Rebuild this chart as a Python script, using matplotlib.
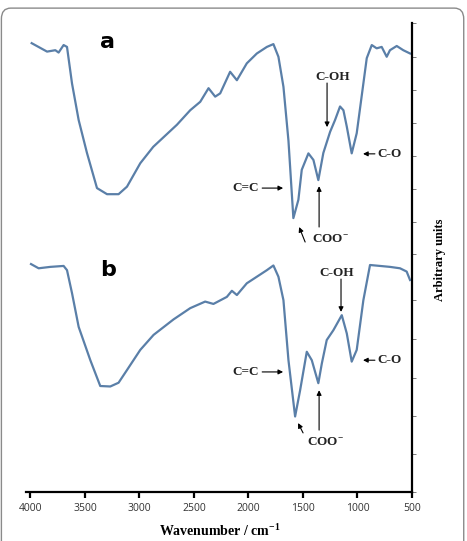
import matplotlib
matplotlib.use("Agg")
import matplotlib.pyplot as plt
from matplotlib.patches import FancyBboxPatch

plt.rcParams['mathtext.fontset'] = 'custom'
plt.rcParams['mathtext.rm'] = 'Liberation Serif:bold'
plt.rcParams['mathtext.bf'] = 'Liberation Serif:bold'

# ---- data ----
wn_a = [3988, 3847, 3771, 3741, 3695, 3664, 3618, 3557, 3481, 3389, 3297, 3191, 3114,
        2992, 2873, 2656, 2534, 2442, 2366, 2305, 2259, 2168, 2106, 2015, 1923, 1831,
        1771, 1725, 1679, 1633, 1588, 1542, 1511, 1450, 1404, 1359, 1313, 1251, 1206,
        1160, 1129, 1098, 1053, 1007, 946, 915, 869, 824, 778, 732, 702, 640, 580, 518]
int_a = [95.7, 93.9, 94.2, 93.7, 95.3, 94.9, 87.1, 79.3, 72.3, 64.8, 63.5, 63.5, 65.1,
         70.1, 73.6, 78.3, 81.4, 83.2, 86.1, 84.3, 85.0, 89.6, 87.8, 91.4, 93.5, 94.9,
         95.5, 92.8, 86.4, 74.9, 58.4, 62.3, 68.7, 72.2, 70.8, 66.5, 72.3, 76.8, 79.3,
         82.2, 81.4, 77.9, 72.2, 76.5, 87.1, 92.5, 95.3, 94.6, 94.9, 92.8, 94.2, 95.1, 94.2, 93.5]

wn_b = [3994, 3924, 3817, 3695, 3664, 3618, 3557, 3450, 3359, 3267, 3191, 3114, 2992,
        2870, 2687, 2534, 2397, 2321, 2198, 2152, 2106, 2015, 1923, 1831, 1771, 1725,
        1679, 1633, 1572, 1526, 1465, 1419, 1359, 1327, 1282, 1221, 1144, 1098, 1053,
        1007, 946, 885, 793, 702, 610, 549, 518]
int_b = [48.6, 47.7, 48.0, 48.2, 47.3, 42.4, 35.2, 28.1, 22.6, 22.5, 23.3, 26.0, 30.3,
         33.5, 36.8, 39.2, 40.6, 40.1, 41.6, 42.9, 42.0, 44.5, 45.9, 47.3, 48.3, 45.9,
         40.9, 28.1, 16.1, 21.7, 29.9, 28.1, 23.2, 27.4, 32.4, 34.5, 37.7, 33.8, 27.8,
         30.3, 40.9, 48.4, 48.2, 48.0, 47.7, 47.0, 45.2]

xticks = [4000, 3500, 3000, 2500, 2000, 1500, 1000, 500]
yticks = [100, 92.75, 85.7, 78.7, 71.6, 64.6, 57.6, 50.7, 40.9, 32.6, 24.3, 16.2, 8.1, 0]

line_color = '#5a7fa8'

fig = plt.figure(figsize=(4.67, 5.41), dpi=100)
ax = fig.add_axes([26/467, 49/541, 386/467, 469/541])

ax.plot(wn_a, int_a, color=line_color, lw=1.6, solid_joinstyle='round')
ax.plot(wn_b, int_b, color=line_color, lw=1.6, solid_joinstyle='round')

ax.set_xlim(4040, 500)
ax.set_ylim(0, 100)

for s in ['left', 'top']:
    ax.spines[s].set_visible(False)
for s in ['right', 'bottom']:
    ax.spines[s].set_linewidth(1.6)
    ax.spines[s].set_color('black')

ax.set_xticks(xticks)
ax.set_xticklabels([str(t) for t in xticks], fontsize=7.5, color='#333333', family='Open Sans')
ax.tick_params(axis='x', direction='out', length=4, width=1.6, pad=4)
ax.yaxis.tick_right()
ax.set_yticks(yticks)
ax.set_yticklabels([])
ax.tick_params(axis='y', direction='out', length=3, width=0.6, color='#666666')

fig.text(220/467, 1 - 531/541, r'Wavenumber / cm$^{\mathbf{-1}}$', ha='center', va='center',
         family='Liberation Serif', fontweight='bold', fontsize=10)
fig.text(440/467, 1 - 260/541, 'Arbitrary units', rotation=90, ha='center', va='center',
         family='Liberation Serif', fontweight='bold', fontsize=9)

# panel letters
ax.text(3290, 96, 'a', fontsize=16, fontweight='bold', family='DejaVu Sans', ha='center', va='center')
ax.text(3290, 47.3, 'b', fontsize=16, fontweight='bold', family='DejaVu Sans', ha='center', va='center')

lab = dict(family='Liberation Serif', fontweight='bold', fontsize=9.5, color='#222222')
ap = dict(arrowstyle='-|>', color='black', lw=0.8, mutation_scale=7, shrinkA=0, shrinkB=0)

def annotate_set(coh_txt, coh_a0, coh_a1, co_y, cc_y, coo_txt, coo_a0, coo_a1, sm0, sm1):
    ax.text(coh_txt[0], coh_txt[1], 'C-OH', ha='center', va='center', **lab)
    ax.annotate('', xy=coh_a1, xytext=coh_a0, arrowprops=ap)
    ax.text(821, co_y, 'C-O', ha='left', va='center', **lab)
    ax.annotate('', xy=(949, co_y), xytext=(840, co_y), arrowprops=ap)
    ax.text(1902, cc_y, 'C=C', ha='right', va='center', **lab)
    ax.annotate('', xy=(1682, cc_y), xytext=(1874, cc_y), arrowprops=ap)
    ax.text(coo_txt[0], coo_txt[1], r'COO$^{\mathbf{-}}$', ha='left', va='center', **lab)
    ax.annotate('', xy=coo_a1, xytext=coo_a0, arrowprops=ap)
    ax.annotate('', xy=sm1, xytext=sm0, arrowprops=ap)

annotate_set((1224, 88.5), (1279, 87.2), (1279, 77.8), 72.1, 64.8,
             (1416, 53.7), (1352, 56.5), (1352, 65.2), (1480, 53.3), (1535, 56.5))
annotate_set((1187, 46.7), (1151, 45.4), (1151, 38.4), 28.1, 25.6,
             (1462, 10.4), (1352, 13.2), (1352, 21.7), (1499, 12.6), (1545, 14.7))

border = FancyBboxPatch((0.003, -0.05), 0.99, 1.035,
                        boxstyle='round,pad=0,rounding_size=0.02',
                        transform=fig.transFigure, facecolor='none',
                        edgecolor='#8a8a8a', lw=1.0)
fig.patches.append(border)

fig.savefig('out.png', dpi=100)
